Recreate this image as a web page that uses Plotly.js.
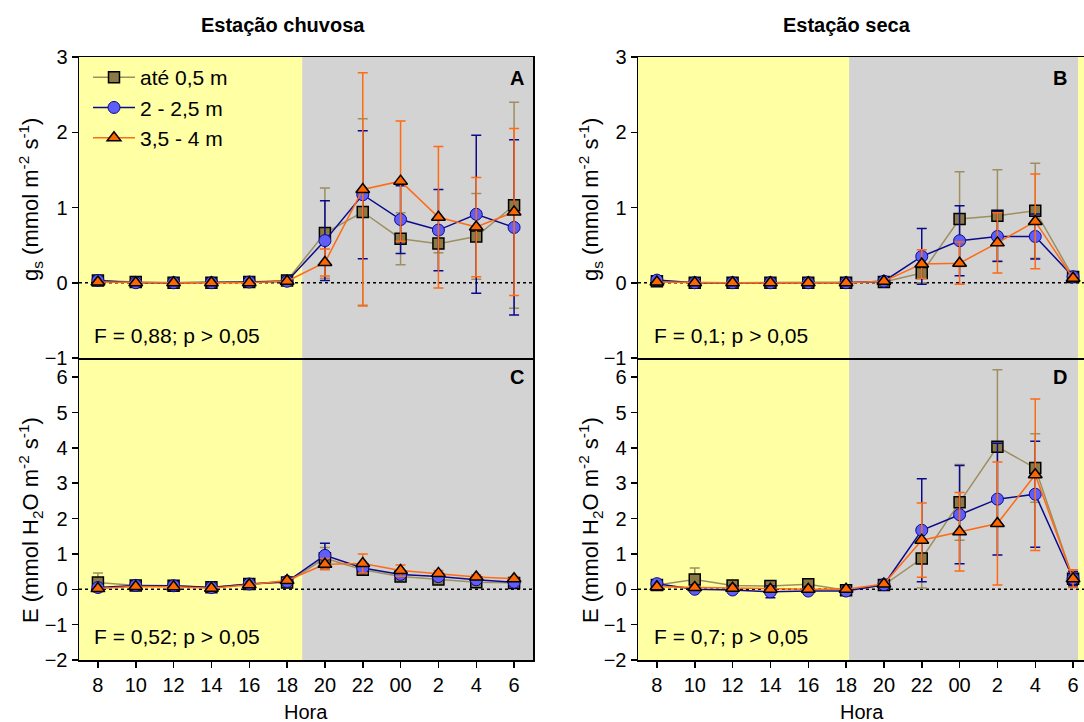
<!DOCTYPE html>
<html><head><meta charset="utf-8">
<script src="https://cdn.plot.ly/plotly-3.0.1.min.js"></script>
<style>html,body{margin:0;padding:0;overflow:hidden;background:#fff}#chart{width:1100px;height:722px}</style>
</head><body><div id="chart"></div>
<script>
// ---- data ----
const hours = ['8','10','12','14','16','18','20','22','00','2','4','6'];
const seriesNames = ['até 0,5 m', '2 - 2,5 m', '3,5 - 4 m'];

// Panel A: gs, estação chuvosa
const gsRainy1 = [0.03, 0.01, 0.00, 0.00, 0.01, 0.03, 0.66, 0.94, 0.585, 0.52, 0.615, 1.03];
const gsRainy1Err = [0.02, 0.01, 0.01, 0.01, 0.01, 0.02, 0.60, 1.24, 0.345, 0.12, 0.57, 1.37];
const gsRainy2 = [0.03, 0.00, 0.00, 0.00, 0.01, 0.02, 0.56, 1.17, 0.84, 0.70, 0.91, 0.735];
const gsRainy2Err = [0.02, 0.01, 0.01, 0.01, 0.01, 0.02, 0.53, 0.85, 0.45, 0.54, 1.05, 1.165];
const gsRainy3 = [0.01, 0.00, 0.00, 0.00, 0.00, 0.02, 0.27, 1.24, 1.35, 0.87, 0.74, 0.94];
const gsRainy3Err = [0.01, 0.01, 0.01, 0.01, 0.01, 0.02, 0.18, 1.55, 0.80, 0.94, 0.66, 1.11];

// Panel B: gs, estação seca
const gsDry1 = [0.02, 0.00, 0.00, 0.00, 0.00, 0.00, 0.01, 0.13, 0.846, 0.89, 0.957, 0.075];
const gsDry1Err = [0.01, 0.01, 0.01, 0.01, 0.01, 0.01, 0.01, 0.13, 0.63, 0.61, 0.63, 0.03];
const gsDry2 = [0.035, 0.00, 0.00, 0.00, 0.00, 0.00, 0.02, 0.35, 0.558, 0.615, 0.615, 0.08];
const gsDry2Err = [0.01, 0.01, 0.01, 0.01, 0.01, 0.01, 0.01, 0.37, 0.465, 0.33, 0.30, 0.03];
const gsDry3 = [0.01, 0.00, 0.00, 0.00, 0.00, 0.00, 0.02, 0.25, 0.26, 0.53, 0.815, 0.06];
const gsDry3Err = [0.01, 0.01, 0.01, 0.01, 0.01, 0.01, 0.01, 0.19, 0.28, 0.40, 0.63, 0.03];

// Panel C: E, estação chuvosa
const eRainy1 = [0.19, 0.11, 0.10, 0.06, 0.15, 0.19, 0.88, 0.55, 0.36, 0.28, 0.20, 0.18];
const eRainy1Err = [0.27, 0.03, 0.03, 0.03, 0.04, 0.05, 0.30, 0.10, 0.08, 0.06, 0.05, 0.05];
const eRainy2 = [0.05, 0.11, 0.10, 0.05, 0.15, 0.22, 0.96, 0.60, 0.42, 0.36, 0.27, 0.20];
const eRainy2Err = [0.03, 0.03, 0.03, 0.03, 0.04, 0.05, 0.34, 0.10, 0.08, 0.06, 0.05, 0.05];
const eRainy3 = [0.02, 0.08, 0.07, 0.03, 0.13, 0.25, 0.71, 0.73, 0.53, 0.45, 0.35, 0.30];
const eRainy3Err = [0.02, 0.03, 0.03, 0.03, 0.04, 0.05, 0.16, 0.27, 0.16, 0.08, 0.06, 0.05];

// Panel D: E, estação seca
const eDry1 = [0.12, 0.28, 0.11, 0.09, 0.14, -0.03, 0.12, 0.87, 2.46, 4.03, 3.43, 0.30];
const eDry1Err = [0.05, 0.32, 0.05, 0.05, 0.05, 0.03, 0.05, 0.83, 1.07, 2.18, 0.97, 0.20];
const eDry2 = [0.16, 0.00, -0.02, -0.07, -0.05, -0.05, 0.13, 1.67, 2.11, 2.55, 2.69, 0.30];
const eDry2Err = [0.05, 0.03, 0.03, 0.17, 0.03, 0.03, 0.05, 1.46, 1.39, 1.58, 1.50, 0.20];
const eDry3 = [0.07, 0.05, 0.03, 0.00, 0.00, 0.00, 0.15, 1.39, 1.63, 1.86, 3.24, 0.30];
const eDry3Err = [0.03, 0.03, 0.03, 0.03, 0.03, 0.03, 0.05, 1.05, 1.11, 1.74, 2.14, 0.25];

const panelLabels = ['A', 'B', 'C', 'D'];
const statTexts = ['F = 0,88; p > 0,05', 'F = 0,1; p > 0,05', 'F = 0,52; p > 0,05', 'F = 0,7; p > 0,05'];
const seasonTitles = ['Estação chuvosa', 'Estação seca'];

// ---- drawing ----
const W = 1100, H = 722;
const FONT = 'Liberation Sans, Arial, sans-serif';
const px = v => v / W;
const py = v => 1 - v / H;

const styles = [
  {symbol: 'square', size: 11, fill: '#8B7A46', edge: '#000000', edgeW: 1.5, line: '#9E8F5F', err: '#9E8F5F'},
  {symbol: 'circle', size: 12, fill: '#5F5FF8', edge: '#0A0A8C', edgeW: 1, line: '#0A0A8C', err: '#0A0A8C'},
  {symbol: 'triangle-up', size: 12, fill: '#FF6600', edge: '#000000', edgeW: 1.5, line: '#FF6A13', err: '#FF6A13'}
];

const panels = [
  {ax: '', vals: [gsRainy1, gsRainy2, gsRainy3], errs: [gsRainy1Err, gsRainy2Err, gsRainy3Err]},
  {ax: '2', vals: [gsDry1, gsDry2, gsDry3], errs: [gsDry1Err, gsDry2Err, gsDry3Err]},
  {ax: '3', vals: [eRainy1, eRainy2, eRainy3], errs: [eRainy1Err, eRainy2Err, eRainy3Err]},
  {ax: '4', vals: [eDry1, eDry2, eDry3], errs: [eDry1Err, eDry2Err, eDry3Err]}
];

const traces = [];
panels.forEach((p, pi) => {
  for (let s = 0; s < 3; s++) {
    const st = styles[s];
    traces.push({
      type: 'scatter', mode: 'lines+markers',
      x: hours, y: p.vals[s],
      xaxis: 'x' + p.ax, yaxis: 'y' + p.ax,
      name: seriesNames[s], legendgroup: 's' + s, showlegend: pi === 0,
      line: {color: st.line, width: 1.5},
      marker: {symbol: st.symbol, size: st.size, color: st.fill, line: {color: st.edge, width: st.edgeW}},
      error_y: {type: 'data', array: p.errs[s], visible: true, color: st.err, thickness: 1.5, width: 5}
    });
  }
});

const leftDom = [px(79), px(533)];
const rightDom = [px(638), px(1092)];
const topDom = [py(358), py(57)];
const botDom = [py(660), py(359.5)];
const tickFont = {family: FONT, size: 20, color: '#000'};

function xAx(dom, anchor, showLabels) {
  return {
    domain: dom, anchor: anchor, type: 'category', categoryorder: 'array', categoryarray: hours,
    range: [-0.5, 11.5], showline: true, linecolor: '#000', linewidth: 1.5, mirror: true,
    ticks: showLabels ? 'outside' : '', ticklen: 6, tickwidth: 1.5, tickcolor: '#000',
    showticklabels: showLabels, tickfont: tickFont, showgrid: false, zeroline: false, fixedrange: true
  };
}
function yAx(dom, anchor, range, tickvals) {
  return {
    domain: dom, anchor: anchor, range: range, tickvals: tickvals,
    showline: true, linecolor: '#000', linewidth: 1.5, mirror: true,
    ticks: 'outside', ticklen: 6, tickwidth: 1.5, tickcolor: '#000',
    tickfont: tickFont, showgrid: false, zeroline: false, fixedrange: true
  };
}

const YELLOW = '#FFFFA3';
const shapes = [];
function bgRect(ax, x0, x1) {
  shapes.push({type: 'rect', xref: 'x' + ax, yref: 'y' + ax + ' domain', x0: x0, x1: x1, y0: 0, y1: 1,
    fillcolor: YELLOW, line: {width: 0}, layer: 'below'});
}
bgRect('', -0.5, 5.4); bgRect('3', -0.5, 5.4);
bgRect('2', -0.5, 5.08); bgRect('4', -0.5, 5.08);
bgRect('2', 11.13, 11.5); bgRect('4', 11.13, 11.5);
['', '2', '3', '4'].forEach(ax => {
  shapes.push({type: 'line', xref: 'x' + ax + ' domain', yref: 'y' + ax, x0: 0, x1: 1, y0: 0, y1: 0,
    line: {color: '#000', width: 1.5, dash: 'dot'}, layer: 'below'});
});

const ann = [];
function addText(text, x, y, opts) {
  ann.push(Object.assign({text: text, x: px(x), y: py(y), xref: 'paper', yref: 'paper', showarrow: false,
    xanchor: 'center', yanchor: 'middle', font: {family: FONT, size: 20, color: '#000'}}, opts || {}));
}
addText('<b>' + seasonTitles[0] + '</b>', 283, 25);
addText('<b>' + seasonTitles[1] + '</b>', 847, 25);
addText('<b>' + panelLabels[0] + '</b>', 517, 78);
addText('<b>' + panelLabels[1] + '</b>', 1060, 78);
addText('<b>' + panelLabels[2] + '</b>', 517, 377);
addText('<b>' + panelLabels[3] + '</b>', 1060, 377);
addText(statTexts[0], 92, 335, {xanchor: 'left', font: {family: FONT, size: 21, color: '#000'}});
addText(statTexts[1], 652, 335, {xanchor: 'left', font: {family: FONT, size: 21, color: '#000'}});
addText(statTexts[2], 92, 636, {xanchor: 'left', font: {family: FONT, size: 21, color: '#000'}});
addText(statTexts[3], 652, 636, {xanchor: 'left', font: {family: FONT, size: 21, color: '#000'}});
addText('Hora', 306, 712);
addText('Hora', 862, 712);
const gsTitle = 'g<sub>s</sub> (mmol m<sup>-2</sup> s<sup>-1</sup>)';
const eTitle = 'E (mmol H<sub>2</sub>O m<sup>-2</sup> s<sup>-1</sup>)';
const yTitleFont = {family: FONT, size: 22, color: '#000'};
addText(gsTitle, 30, 200, {textangle: -90, font: yTitleFont});
addText(gsTitle, 590, 200, {textangle: -90, font: yTitleFont});
addText(eTitle, 30, 520, {textangle: -90, font: yTitleFont});
addText(eTitle, 590, 520, {textangle: -90, font: yTitleFont});

const layout = {
  width: W, height: H,
  margin: {l: 0, r: 0, t: 0, b: 0},
  paper_bgcolor: '#ffffff', plot_bgcolor: '#D3D3D3',
  font: {family: FONT, size: 20, color: '#000'},
  showlegend: true,
  legend: {x: px(88), y: py(57), xanchor: 'left', yanchor: 'top', bgcolor: 'rgba(0,0,0,0)',
    font: {family: FONT, size: 21, color: '#000'}, tracegroupgap: 0, itemwidth: 42},
  xaxis: xAx(leftDom, 'y', false),
  xaxis2: xAx(rightDom, 'y2', false),
  xaxis3: xAx(leftDom, 'y3', true),
  xaxis4: xAx(rightDom, 'y4', true),
  yaxis: yAx(topDom, 'x', [-1, 3], [-1, 0, 1, 2, 3]),
  yaxis2: yAx(topDom, 'x2', [-1, 3], [-1, 0, 1, 2, 3]),
  yaxis3: yAx(botDom, 'x3', [-2, 6.5], [-2, -1, 0, 1, 2, 3, 4, 5, 6]),
  yaxis4: yAx(botDom, 'x4', [-2, 6.5], [-2, -1, 0, 1, 2, 3, 4, 5, 6]),
  shapes: shapes,
  annotations: ann
};

Plotly.newPlot('chart', traces, layout, {displayModeBar: false, staticPlot: true});
</script>
</body></html>
